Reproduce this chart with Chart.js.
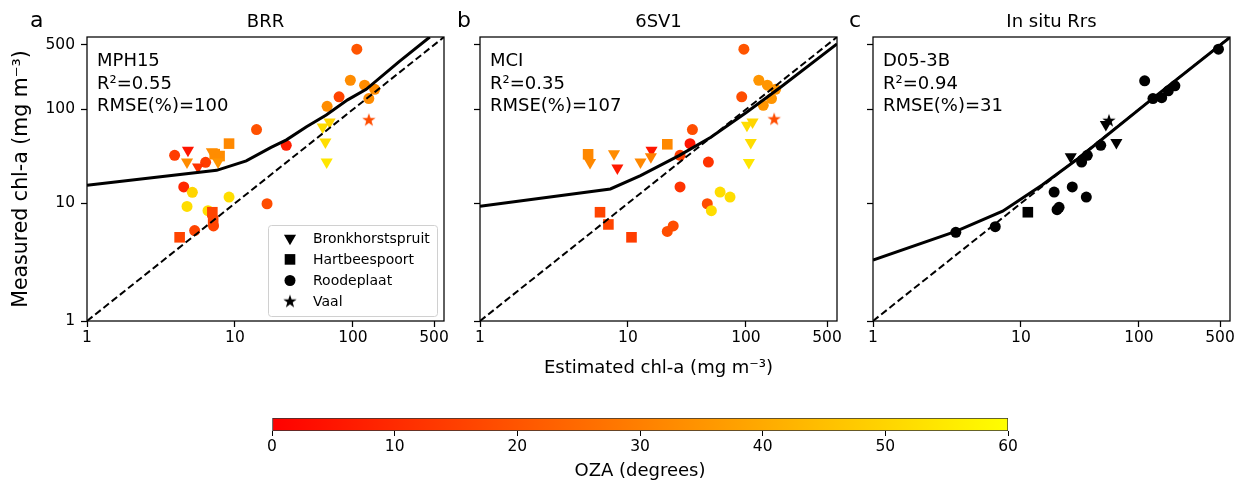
<!DOCTYPE html>
<html>
<head>
<meta charset="utf-8">
<script src="https://cdn.jsdelivr.net/npm/chart.js@4.4.1/dist/chart.umd.min.js"></script>
<style>
  body { margin: 0; background: #fff; width: 1238px; height: 487px; position: relative; overflow: hidden; }
  canvas { position: absolute; }
</style>
</head>
<body>
<canvas id="panelA" width="460" height="400" style="left:0;top:0"></canvas>
<canvas id="panelB" width="410" height="400" style="left:440px;top:0"></canvas>
<canvas id="panelC" width="403" height="400" style="left:835px;top:0"></canvas>
<canvas id="colorbar" width="1238" height="87" style="left:0;top:400px"></canvas>
<script>
// axes: both log, 1 .. ~610
const AXIS_MIN = 1, AXIS_MAX = 610;
const TICK_VALUES = [1, 10, 100, 500];
const OZA_MIN = 0, OZA_MAX = 60;

const SITE_NAMES = { B: 'Bronkhorstspruit', H: 'Hartbeespoort', R: 'Roodeplaat', V: 'Vaal' };

// a - BRR / MPH15   (R = Roodeplaat, H = Hartbeespoort, B = Bronkhorstspruit, V = Vaal)
const brrSite = 'RRRRRRRRRRRRRRRRRRRHHHHHHBBBBBBBBBV'.split('');
const brrEst  = [108, 95, 126, 154, 137, 76, 60, 15.1, 26.9, 3.36, 5.8, 3.93, 4.57, 4.16, 8.95, 18.5, 6.06, 4.76, 6.7,
                 3.66, 6.56, 6.66, 8.95, 6.85, 7.5,
                 4.23, 4.16, 5.06, 7.29, 6.5, 55, 63, 58, 59.5,
                 137];
const brrMeas = [450, 207, 183, 165, 131, 137, 108, 60.6, 41, 32.1, 27, 14.8, 13.0, 9.3, 11.6, 9.9, 8.4, 5.3, 5.9,
                 4.56, 8.1, 6.6, 42.8, 33, 31.5,
                 36.3, 27.2, 24.1, 27.2, 35, 64.8, 73, 44.6, 27.2,
                 76.5];
const brrOza  = [20, 33, 33, 33, 33, 16, 33, 19, 7, 14, 14, 9, 50, 52, 52, 18, 52, 16, 16,
                 16, 16, 16, 32, 33, 33,
                 5, 33, 12, 35, 33, 52, 50, 52, 54,
                 18];
const brrFitX = [1, 7.1, 12.4, 20, 27, 40, 59, 90, 130, 250, 460];
const brrFitY = [15.4, 22.2, 28, 39, 47, 65, 87, 127, 165, 330, 610];

// b - 6SV1 / MCI
const svSite = 'RRRRRRRRRRRRRRRRRRHHHHHBBBBBBBBBBV'.split('');
const svEst  = [96, 129, 153, 180, 166, 141, 92, 34.8, 33.2, 27.3, 47.6, 27.3, 60, 73, 46.6, 50.5, 23.9, 21.3,
                4.8, 21.3, 5.95, 6.94, 10.7,
                4.97, 7.7, 8.2, 12.7, 15.7, 15.5, 102, 114, 110, 106,
                175];
const svMeas = [450, 207, 183, 165, 131, 111, 137, 60.6, 42.8, 32.1, 27.2, 14.8, 13.1, 11.6, 9.9, 8.4, 5.9, 5.2,
                32.9, 42.1, 8.1, 6.1, 4.56,
                26.8, 33.4, 23.5, 27.2, 36.3, 31, 67.5, 73, 44, 26.8,
                78];
const svOza  = [20, 35, 35, 35, 35, 35, 18, 18, 5, 14, 12, 12, 52, 52, 18, 52, 18, 18,
                32, 32, 16, 16, 14,
                32, 33, 6, 32, 5, 30, 52, 50, 52, 54,
                18];
const svFitX = [1, 7.2, 12.7, 27, 50, 100, 200, 610];
const svFitY = [9.3, 14.1, 19.5, 32, 50, 92, 175, 513];

// c - in situ Rrs / D05-3B (no OZA, black markers)
const rrsSite = 'RRRRRRRRRRRRRRRRHBBBV'.split('');
const rrsEst  = [485, 112, 132, 157, 179, 204, 47, 36.1, 32.3, 26.9, 18.9, 35.4, 20.8, 20.0, 6.2, 3.1,
                 11.4,
                 26.1, 52, 64,
                 55.3];
const rrsMeas = [450, 204, 131, 134, 159, 180, 41.1, 32.1, 27.2, 14.8, 13.1, 11.6, 9.1, 8.6, 5.8, 5.1,
                 8.1,
                 31, 68.7, 44,
                 75.3];
const rrsFitX = [1, 3.1, 7.1, 15, 30, 130, 610];
const rrsFitY = [2.8, 5.2, 8.3, 15.5, 29.5, 130, 605];

const oneToOne = [AXIS_MIN, AXIS_MAX];

Chart.defaults.font.family = '"DejaVu Sans", sans-serif';
Chart.defaults.color = '#000';

// log axis of (v - 0.5), the way the original figure spaces its decades
const SHIFT = 0.5;
class ShiftedLogScale extends Chart.LogarithmicScale {
  configure() {
    super.configure();
    this._startValue = Math.log10(this.min - SHIFT);
    this._valueRange = Math.log10(this.max - SHIFT) - this._startValue;
  }
  getPixelForValue(value) {
    if (value === undefined || value === null || isNaN(value)) return NaN;
    return this.getPixelForDecimal((Math.log10(value - SHIFT) - this._startValue) / this._valueRange);
  }
  getValueForPixel(pixel) {
    const d = this.getDecimalForPixel(pixel);
    return Math.pow(10, this._startValue + d * this._valueRange) + SHIFT;
  }
}
ShiftedLogScale.id = 'shiftedLog';
ShiftedLogScale.defaults = Chart.LogarithmicScale.defaults;
Chart.register(ShiftedLogScale);

function autumn(v) {
  return 'rgb(255,' + Math.round(255 * (v - OZA_MIN) / (OZA_MAX - OZA_MIN)) + ',0)';
}

function starImage(color, r) {
  const c = document.createElement('canvas');
  c.width = c.height = Math.ceil(2 * r + 2);
  const g = c.getContext('2d');
  const m = c.width / 2;
  g.beginPath();
  for (let k = 0; k < 10; k++) {
    const rad = k % 2 ? r * 0.4 : r;
    const ang = -Math.PI / 2 + k * Math.PI / 5;
    g.lineTo(m + rad * Math.cos(ang), m + rad * Math.sin(ang));
  }
  g.closePath();
  g.fillStyle = color;
  g.fill();
  return c;
}

const SITE_STYLE = {
  B: { pointStyle: 'triangle', rotation: 180, radius: 7 },
  H: { pointStyle: 'rect', rotation: 0, radius: 7.5 },
  R: { pointStyle: 'circle', rotation: 0, radius: 5.5 },
  V: { pointStyle: 'star', rotation: 0, radius: 7 }
};

function lineDataset(xs, ys, dashed) {
  return {
    data: xs.map((x, i) => ({ x: x, y: ys[i] })),
    showLine: true,
    pointRadius: 0,
    borderColor: '#000',
    borderWidth: dashed ? 2 : 3,
    borderDash: dashed ? [7, 3.5] : [],
    tension: 0
  };
}

function siteDatasets(est, meas, site, colorOf) {
  const out = [];
  for (const code of ['V', 'B', 'H', 'R']) {
    const idx = [];
    site.forEach((s, i) => { if (s === code) idx.push(i); });
    const colors = idx.map(colorOf);
    const st = SITE_STYLE[code];
    out.push({
      data: idx.map(i => ({ x: est[i], y: meas[i] })),
      showLine: false,
      pointBackgroundColor: colors,
      pointBorderWidth: 0,
      pointRadius: st.radius,
      pointHoverRadius: st.radius,
      pointRotation: st.rotation,
      pointStyle: code === 'V' ? colors.map(c => starImage(c, st.radius)) : st.pointStyle
    });
  }
  return out;
}

function logAxis(horizontal, size, showLabels, title, titleSize, titlePad) {
  return {
    type: 'shiftedLog',
    min: AXIS_MIN,
    max: AXIS_MAX,
    afterBuildTicks: s => { s.ticks = TICK_VALUES.map(v => ({ value: v })); },
    afterFit: s => {
      if (horizontal) s.height = size; else s.width = size;
      s.paddingLeft = s.paddingRight = s.paddingTop = s.paddingBottom = 0;
    },
    grid: { display: true, drawOnChartArea: false, drawTicks: true, tickLength: 6, tickWidth: 1.25, tickColor: '#000' },
    border: { display: false },
    ticks: {
      display: showLabels,
      padding: horizontal ? 2 : 6,
      font: { size: 15.5 },
      color: '#000',
      maxRotation: 0,
      autoSkip: false,
      callback: v => String(v)
    },
    title: title
      ? { display: true, text: title, font: { size: titleSize }, color: '#000', padding: titlePad }
      : { display: false }
  };
}

function drawLegend(ctx, a) {
  const w = 169, h = 91;
  const x0 = a.right - 7 - w, y0 = a.bottom - 5 - h;
  ctx.fillStyle = 'rgba(255,255,255,0.8)';
  ctx.strokeStyle = '#d0d0d0';
  ctx.lineWidth = 1;
  ctx.beginPath();
  ctx.roundRect(x0 + 0.5, y0 + 0.5, w, h, 3);
  ctx.fill();
  ctx.stroke();
  ctx.font = '14px "DejaVu Sans"';
  ctx.textAlign = 'left';
  ctx.textBaseline = 'middle';
  ['B', 'H', 'R', 'V'].forEach((code, i) => {
    const cy = y0 + 13.3 + i * 21.1;
    const cx = x0 + 22;
    const st = SITE_STYLE[code];
    ctx.fillStyle = '#000';
    if (code === 'V') {
      const img = starImage('#000', st.radius);
      ctx.drawImage(img, cx - img.width / 2, cy - img.height / 2);
    } else {
      Chart.helpers.drawPoint(ctx, { pointStyle: st.pointStyle, rotation: st.rotation, radius: st.radius, borderWidth: 0 }, cx, cy);
    }
    ctx.fillStyle = '#000';
    ctx.fillText(SITE_NAMES[code], x0 + 45, cy + 1);
  });
}

function decor(cfg) {
  return {
    id: 'panelDecor',
    afterDatasetsDraw(chart) {
      const ctx = chart.ctx, a = chart.chartArea;
      ctx.save();
      ctx.strokeStyle = '#000';
      ctx.lineWidth = 1.25;
      ctx.strokeRect(a.left, a.top, a.right - a.left, a.bottom - a.top);
      ctx.fillStyle = '#000';
      ctx.textBaseline = 'alphabetic';
      ctx.font = '18px "DejaVu Sans"';
      ctx.textAlign = 'center';
      ctx.fillText(cfg.title, (a.left + a.right) / 2, 27);
      ctx.textAlign = 'left';
      ctx.font = '22px "DejaVu Sans"';
      ctx.fillText(cfg.letter, cfg.letterX, 27);
      ctx.font = '18px "DejaVu Sans"';
      cfg.stats.forEach((t, i) => ctx.fillText(t, a.left + 10, 66 + i * 22.5));
      if (cfg.legend) drawLegend(ctx, a);
      ctx.restore();
    }
  };
}

function makePanel(id, cfg) {
  return new Chart(document.getElementById(id), {
    type: 'scatter',
    data: {
      datasets: [
        lineDataset(cfg.fitX, cfg.fitY, false),
        lineDataset(oneToOne, oneToOne, true),
        ...siteDatasets(cfg.est, cfg.meas, cfg.site, cfg.colorOf)
      ]
    },
    options: {
      responsive: false,
      animation: false,
      events: [],
      layout: { padding: { left: 0, right: cfg.padRight, top: 37, bottom: 0 } },
      plugins: { legend: { display: false }, tooltip: { enabled: false } },
      scales: {
        x: logAxis(true, 79, true, cfg.xTitle, 18, { top: 0, bottom: 21.2 }),
        y: logAxis(false, cfg.yWidth, cfg.yLabels, cfg.yTitle, 20.5, { top: 9.5, bottom: 0 })
      }
    },
    plugins: [decor(cfg)]
  });
}

makePanel('panelA', {
  est: brrEst, meas: brrMeas, site: brrSite, colorOf: i => autumn(brrOza[i]),
  fitX: brrFitX, fitY: brrFitY,
  padRight: 16, yWidth: 87, yLabels: true,
  yTitle: 'Measured chl-a (mg m\u207B\u00B3)',
  title: 'BRR', letter: 'a', letterX: 30,
  stats: ['MPH15', 'R\u00B2=0.55', 'RMSE(%)=100'],
  legend: true
});

makePanel('panelB', {
  est: svEst, meas: svMeas, site: svSite, colorOf: i => autumn(svOza[i]),
  fitX: svFitX, fitY: svFitY,
  padRight: 13, yWidth: 40, yLabels: false,
  xTitle: 'Estimated chl-a (mg m\u207B\u00B3)',
  title: '6SV1', letter: 'b', letterX: 17,
  stats: ['MCI', 'R\u00B2=0.35', 'RMSE(%)=107']
});

makePanel('panelC', {
  est: rrsEst, meas: rrsMeas, site: rrsSite, colorOf: () => '#000',
  fitX: rrsFitX, fitY: rrsFitY,
  padRight: 8, yWidth: 38, yLabels: false,
  title: 'In situ Rrs', letter: 'c', letterX: 14,
  stats: ['D05-3B', 'R\u00B2=0.94', 'RMSE(%)=31']
});

// colour bar for OZA
new Chart(document.getElementById('colorbar'), {
  type: 'bar',
  data: {
    labels: [''],
    datasets: [{
      data: [[OZA_MIN, OZA_MAX]],
      backgroundColor: c => {
        const a = c.chart.chartArea;
        if (!a) return autumn(OZA_MIN);
        const g = c.chart.ctx.createLinearGradient(a.left, 0, a.right, 0);
        g.addColorStop(0, autumn(OZA_MIN));
        g.addColorStop(1, autumn(OZA_MAX));
        return g;
      },
      borderColor: '#333',
      borderWidth: 1,
      borderSkipped: false,
      barPercentage: 1,
      categoryPercentage: 1
    }]
  },
  options: {
    indexAxis: 'y',
    responsive: false,
    animation: false,
    events: [],
    layout: { padding: { left: 272, right: 230, top: 18, bottom: 0 } },
    plugins: { legend: { display: false }, tooltip: { enabled: false } },
    scales: {
      y: { display: false },
      x: {
        type: 'linear',
        min: OZA_MIN,
        max: OZA_MAX,
        afterFit: s => {
          s.height = 56;
          s.paddingLeft = s.paddingRight = s.paddingTop = s.paddingBottom = 0;
        },
        grid: { display: true, drawOnChartArea: false, drawTicks: true, tickLength: 5, tickWidth: 1, tickColor: '#000' },
        border: { display: false },
        ticks: { stepSize: 10, padding: 2, font: { size: 15.5 }, color: '#000', maxRotation: 0, autoSkip: false },
        title: { display: true, text: 'OZA (degrees)', font: { size: 18 }, color: '#000', padding: { top: 0, bottom: 5.2 } }
      }
    }
  }
});
</script>
</body>
</html>
